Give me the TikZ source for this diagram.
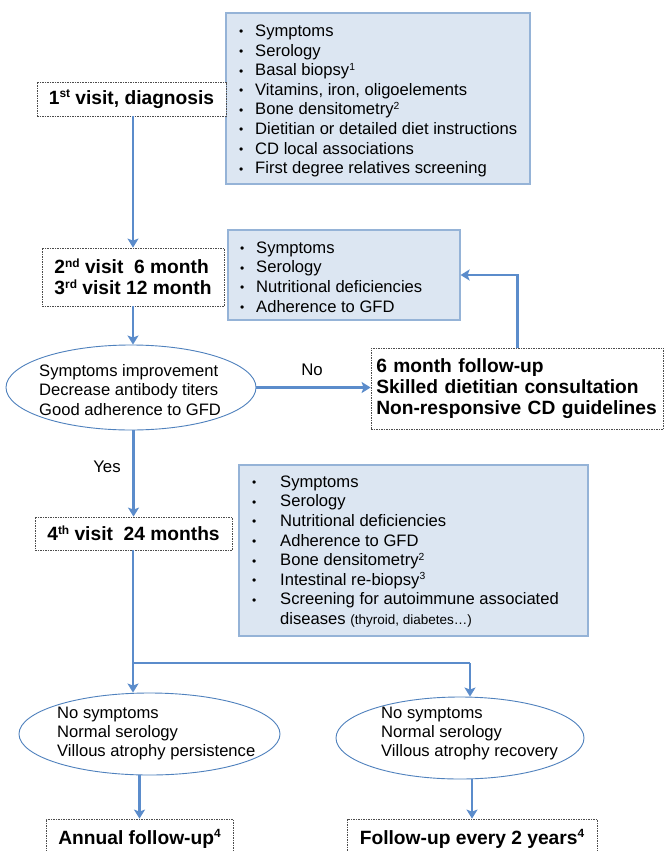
\documentclass[tikz,border=0pt]{standalone}
\usepackage{fontspec}
\usepackage{graphicx}
\setmainfont{Liberation Sans}
\usetikzlibrary{arrows.meta,shapes.geometric}
\definecolor{arrowblue}{HTML}{5B8CCB}
\definecolor{boxfill}{HTML}{DCE6F2}
\definecolor{boxline}{HTML}{95B3D7}
\definecolor{ellline}{HTML}{4F81BD}
\newcommand{\smbul}{\raisebox{0.6pt}{\fontsize{12}{12}\selectfont\textbullet}}
\newcommand{\bul}[1]{\makebox[16pt][l]{\smbul}#1}
\newcommand{\bulw}[1]{\makebox[28pt][l]{\smbul}#1}
\newcommand{\supr}[1]{\raisebox{0.33em}{\scalebox{0.62}{#1}}}
\tikzset{
  dbox/.style={draw=black!70, dash pattern=on 1.5pt off 1pt, line width=0.8pt, fill=white,
    font=\bfseries\fontsize{19.2}{21}\selectfont, align=left, inner sep=0pt},
  bbox/.style={draw=boxline, fill=boxfill, line width=1.2pt, inner sep=0pt},
  listtext/.style={font=\fontsize{16.6}{19.6}\selectfont, align=left, inner sep=0pt, anchor=west},
  ell/.style={ellipse, draw=ellline, line width=0.9pt, fill=white, inner sep=0pt},
  elltext/.style={font=\fontsize{16.6}{19.4}\selectfont, align=left, inner sep=0pt, anchor=west},
  lbl/.style={font=\fontsize{16.8}{19}\selectfont, inner sep=0pt},
  arr/.style={draw=arrowblue, line width=2.6pt, -{Stealth[length=9pt,width=11pt,inset=2pt]}},
  seg/.style={draw=arrowblue, line width=2.6pt}
}
\begin{document}
\begin{tikzpicture}[x=1pt,y=-1pt]
\useasboundingbox (0,0) rectangle (664,851);
\fill[white] (0,0) rectangle (664,851);

% first visit
\node[bbox, minimum width=304, minimum height=171] (l1) at (378,98.5) {};
\node[listtext] (l1t) at (239,101) {\bul{Symptoms}\\ \bul{Serology}\\ \bul{Basal biopsy\supr{1}}\\
  \bul{Vitamins, iron, oligoelements}\\ \bul{Bone densitometry\supr{2}}\\
  \bul{Dietitian or detailed diet instructions}\\ \bul{CD local associations}\\ \bul{First degree relatives screening}};
\node[dbox, minimum width=189, minimum height=34] (v1) at (131.5,99) {1\supr{st} visit, diagnosis};

% second / third visit
\node[bbox, minimum width=232, minimum height=90] (l2) at (344,275) {};
\node[listtext] (l2t) at (240,277) {\bul{Symptoms}\\ \bul{Serology}\\ \bul{Nutritional deficiencies}\\ \bul{Adherence to GFD}};
\node[dbox, minimum width=182, minimum height=58] (v2) at (133,277) {2\supr{nd} visit\ \ 6 month\\ 3\supr{rd} visit 12 month};

% decision
\node[ell, minimum width=250, minimum height=85] (e1) at (131,387.5) {};
\node[elltext] (e1t) at (39,390) {Symptoms improvement\\ Decrease antibody titers\\ Good adherence to GFD};
\node[lbl] (no) at (312,370) {No};
\node[dbox, minimum width=292.5, minimum height=81, text width=282] (v3) at (517.25,388.5) {6 month follow-up\\ Skilled dietitian consultation\\ Non-responsive CD guidelines};
\node[lbl] (yes) at (107,467) {Yes};

% fourth visit
\node[bbox, minimum width=349, minimum height=171] (l3) at (413.5,550.5) {};
\node[listtext] (l3t) at (252,551.5) {\bulw{Symptoms}\\ \bulw{Serology}\\ \bulw{Nutritional deficiencies}\\ \bulw{Adherence to GFD}\\
  \bulw{Bone densitometry\supr{2}}\\ \bulw{Intestinal re-biopsy\supr{3}}\\ \bulw{Screening for autoimmune associated}\\
  \hspace*{28pt}diseases {\fontsize{13.5}{15}\selectfont (thyroid, diabetes…)}};
\node[dbox, minimum width=197, minimum height=33] (v4) at (133.5,533.5) {4\supr{th} visit\ \ 24 months};

% outcomes
\node[ell, minimum width=261, minimum height=82] (e2) at (149.5,734) {};
\node[elltext] (e2t) at (57,733.5) {No symptoms\\ Normal serology\\ Villous atrophy persistence};
\node[ell, minimum width=248, minimum height=82] (e3) at (460,738) {};
\node[elltext] (e3t) at (381,733.5) {No symptoms\\ Normal serology\\ Villous atrophy recovery};
\node[dbox, minimum width=187, minimum height=40] (v5) at (139.5,839) {Annual follow-up\supr{4}};
\node[dbox, minimum width=250, minimum height=40] (v6) at (472,839) {Follow-up every 2 years\supr{4}};

% connectors
\draw[arr] (v1.south -| v2.north) -- (v2.north);
\draw[arr] (v2.south) -- (v2.south |- e1.north);
\draw[arr] (e1.east) -- (e1.east -| v3.west);
\draw[arr] (v3.north) |- (l2.east);
\draw[arr] (e1.south -| v4.north) -- (v4.north);
\coordinate (br) at (133,663);
\coordinate (brR) at (470,663);
\draw[arr] (v4.south -| br) -- (br |- e2.north);
\draw[seg] (br) -- (brR);
\draw[arr] (brR) -- (brR |- e3.north);
\draw[arr] (v5.north |- e2.south) -- (v5.north);
\draw[arr] (v6.north |- e3.south) -- (v6.north);
\end{tikzpicture}
\end{document}
